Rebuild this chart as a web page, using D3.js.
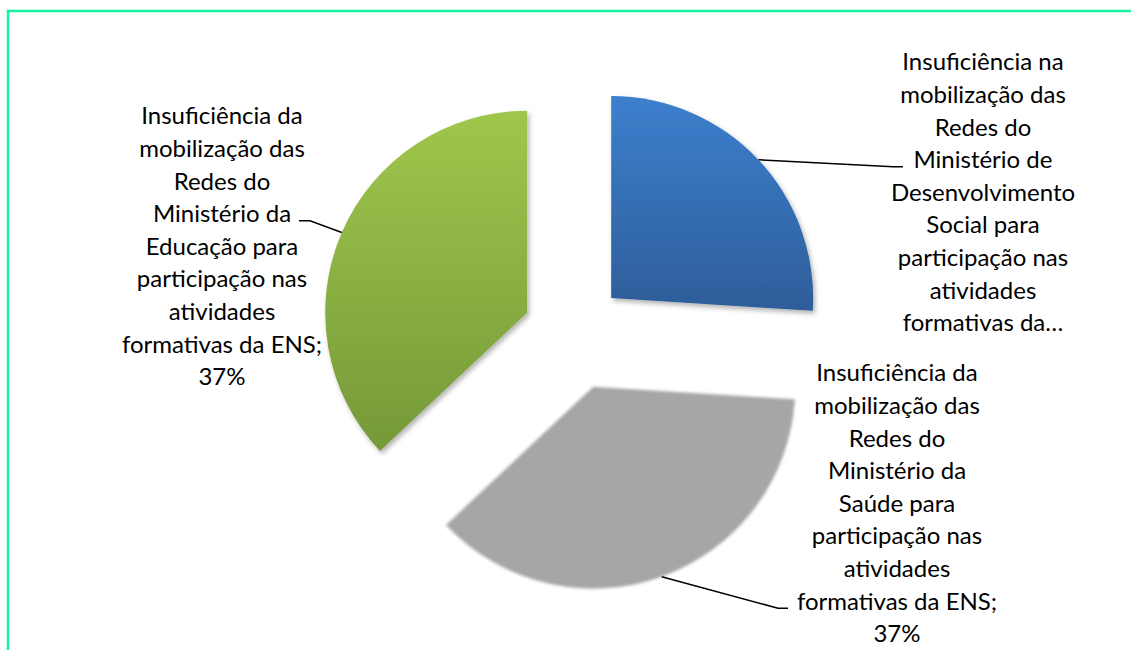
<!DOCTYPE html>
<html>
<head>
<meta charset="utf-8">
<script src="https://cdn.jsdelivr.net/npm/d3@7"></script>
<style>
  body { margin: 0; background: #fff; }
  text { font-family: Lato, "Noto Sans", sans-serif; fill: #000; }
</style>
</head>
<body>
<div id="chart"></div>
<script>
// data
var categories = ["Desenvolvimento Social", "Saúde", "Educação"];
var values = [26, 37, 37];
var labelLines = [
  ["Insuficiência na", "mobilização das", "Redes do", "Ministério de", "Desenvolvimento", "Social para", "participação nas", "atividades", "formativas da…"],
  ["Insuficiência da", "mobilização das", "Redes do", "Ministério da", "Saúde para", "participação nas", "atividades", "formativas da ENS;", "37%"],
  ["Insuficiência da", "mobilização das", "Redes do", "Ministério da", "Educação para", "participação nas", "atividades", "formativas da ENS;", "37%"]
];

// layout
var W = 1131, H = 650;
var cx = 574, cy = 333, r = 202;
var explode = [51, 57, 51];
var colors = [["#3c80ce", "#2e5d99"], ["#a6a6a6", "#a6a6a6"], ["#9fc74c", "#759938"]];
// label block: center x, first line middle y, which line the leader hits
var labelPos = [
  {x: 983, y: 62, hit: 3, side: "left", endX: 893},
  {x: 897, y: 373, hit: 7, side: "left", endX: 778},
  {x: 222, y: 116, hit: 3, side: "right", endX: 310}
];
var lineH = 32.6;

var svg = d3.select("#chart").append("svg")
  .attr("width", W).attr("height", H);

var defs = svg.append("defs");
colors.forEach(function (c, i) {
  var g = defs.append("linearGradient").attr("id", "grad" + i)
    .attr("x1", 0).attr("y1", 0).attr("x2", 0).attr("y2", 1);
  g.append("stop").attr("offset", "0%").attr("stop-color", c[0]);
  g.append("stop").attr("offset", "100%").attr("stop-color", c[1]);
});
var sh = defs.append("filter").attr("id", "shadow")
  .attr("x", "-10%").attr("y", "-10%").attr("width", "130%").attr("height", "130%");
sh.append("feDropShadow").attr("dx", 2).attr("dy", 3).attr("stdDeviation", 2.5)
  .attr("flood-color", "#000").attr("flood-opacity", 0.3);
var bl = defs.append("filter").attr("id", "soft")
  .attr("x", "-10%").attr("y", "-10%").attr("width", "120%").attr("height", "120%");
bl.append("feGaussianBlur").attr("stdDeviation", 1.6);

// frame
svg.append("rect")
  .attr("x", 8).attr("y", 11).attr("width", W).attr("height", H)
  .attr("fill", "none").attr("stroke", "#14f5a0").attr("stroke-width", 2.5);

var pie = d3.pie().sort(null).value(function (d) { return d; });
var arcs = pie(values);
var arc = d3.arc().innerRadius(0).outerRadius(r);

function offset(d, i) {
  var a = (d.startAngle + d.endAngle) / 2;
  return [cx + explode[i] * Math.sin(a), cy - explode[i] * Math.cos(a)];
}

var slices = svg.append("g").selectAll("g")
  .data(arcs).enter().append("g")
  .attr("transform", function (d, i) { var o = offset(d, i); return "translate(" + o[0] + "," + o[1] + ")"; });

slices.append("path")
  .attr("d", arc)
  .attr("fill", function (d, i) { return "url(#grad" + i + ")"; })
  .attr("filter", function (d, i) { return i === 1 ? "url(#soft)" : "url(#shadow)"; });

// leader lines
arcs.forEach(function (d, i) {
  var o = offset(d, i);
  var a = (d.startAngle + d.endAngle) / 2;
  var sx = o[0] + r * Math.sin(a), sy = o[1] - r * Math.cos(a);
  var p = labelPos[i];
  var ly = p.y + p.hit * lineH + 7;
  var hx = p.side === "left" ? p.endX + 10 : p.endX - 11;
  svg.append("polyline")
    .attr("points", [[sx, sy], [p.endX, ly], [hx, ly]].map(function (q) { return q.join(","); }).join(" "))
    .attr("fill", "none").attr("stroke", "#000").attr("stroke-width", 1.5);
});

// labels
labelLines.forEach(function (lines, i) {
  var p = labelPos[i];
  var t = svg.append("text")
    .attr("text-anchor", "middle")
    .attr("font-size", "24px");
  lines.forEach(function (s, j) {
    t.append("tspan").attr("x", p.x).attr("y", p.y + j * lineH)
      .attr("dy", "0.35em").text(s);
  });
});
</script>
</body>
</html>
